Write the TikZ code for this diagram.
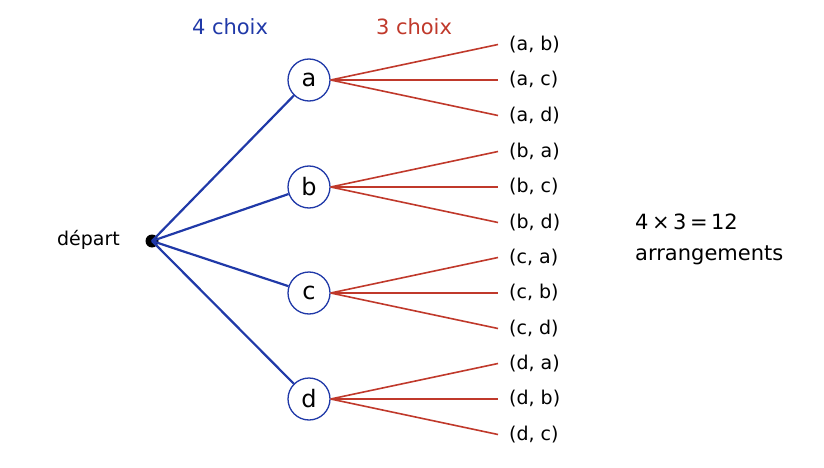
\documentclass[tikz,border=0pt]{standalone}
\usepackage{fontspec}
\setmainfont{DejaVu Sans}
\definecolor{bl}{HTML}{2039A8}
\definecolor{rd}{HTML}{C0392B}
\begin{document}
\begin{tikzpicture}[x=1pt,y=-1pt,
  nd/.style={circle,draw=bl,line width=1.3pt,fill=white,minimum size=42pt,inner sep=0pt,font=\fontsize{24}{24}\selectfont},
  br/.style={draw=bl,line width=2.2pt},
  lf/.style={draw=rd,line width=1.6pt},
  lab/.style={anchor=west,inner sep=0pt,font=\fontsize{19}{19}\selectfont}]
\useasboundingbox (0,0) rectangle (824,468);
\node[circle,fill=black,minimum size=13pt,inner sep=0pt] (s) at (152,241) {};
\node[anchor=east,inner sep=0pt,font=\fontsize{19}{19}\selectfont] (dep) at (120,240) {départ};
\node[text=bl,font=\fontsize{21}{21}\selectfont] (c4) at (230,27) {4 choix};
\node[text=rd,font=\fontsize{21}{21}\selectfont] (c3) at (414,27) {3 choix};
\node[anchor=west,align=left,inner sep=0pt,font=\fontsize{21}{31}\selectfont] (res) at (635,239) {4\,×\,3\,=\,12\\arrangements};
\foreach \n/\y/\la/\lb/\lc in {a/80/b/c/d, b/187/a/c/d, c/293/a/b/d, d/399/a/b/c}{
  \node[nd] (\n) at (309,\y) {\n};
  \draw[br] (s.center) -- (\n);
  \foreach \m/\dy in {\la/-35.5, \lb/0, \lc/35.5}{
    \coordinate (e\n\m) at (498,\y+\dy);
    \draw[lf] (\n.east) -- (e\n\m);
    \node[lab] (l\n\m) at (509,\y+\dy) {(\n, \m)};
  }
}
\end{tikzpicture}
\end{document}
